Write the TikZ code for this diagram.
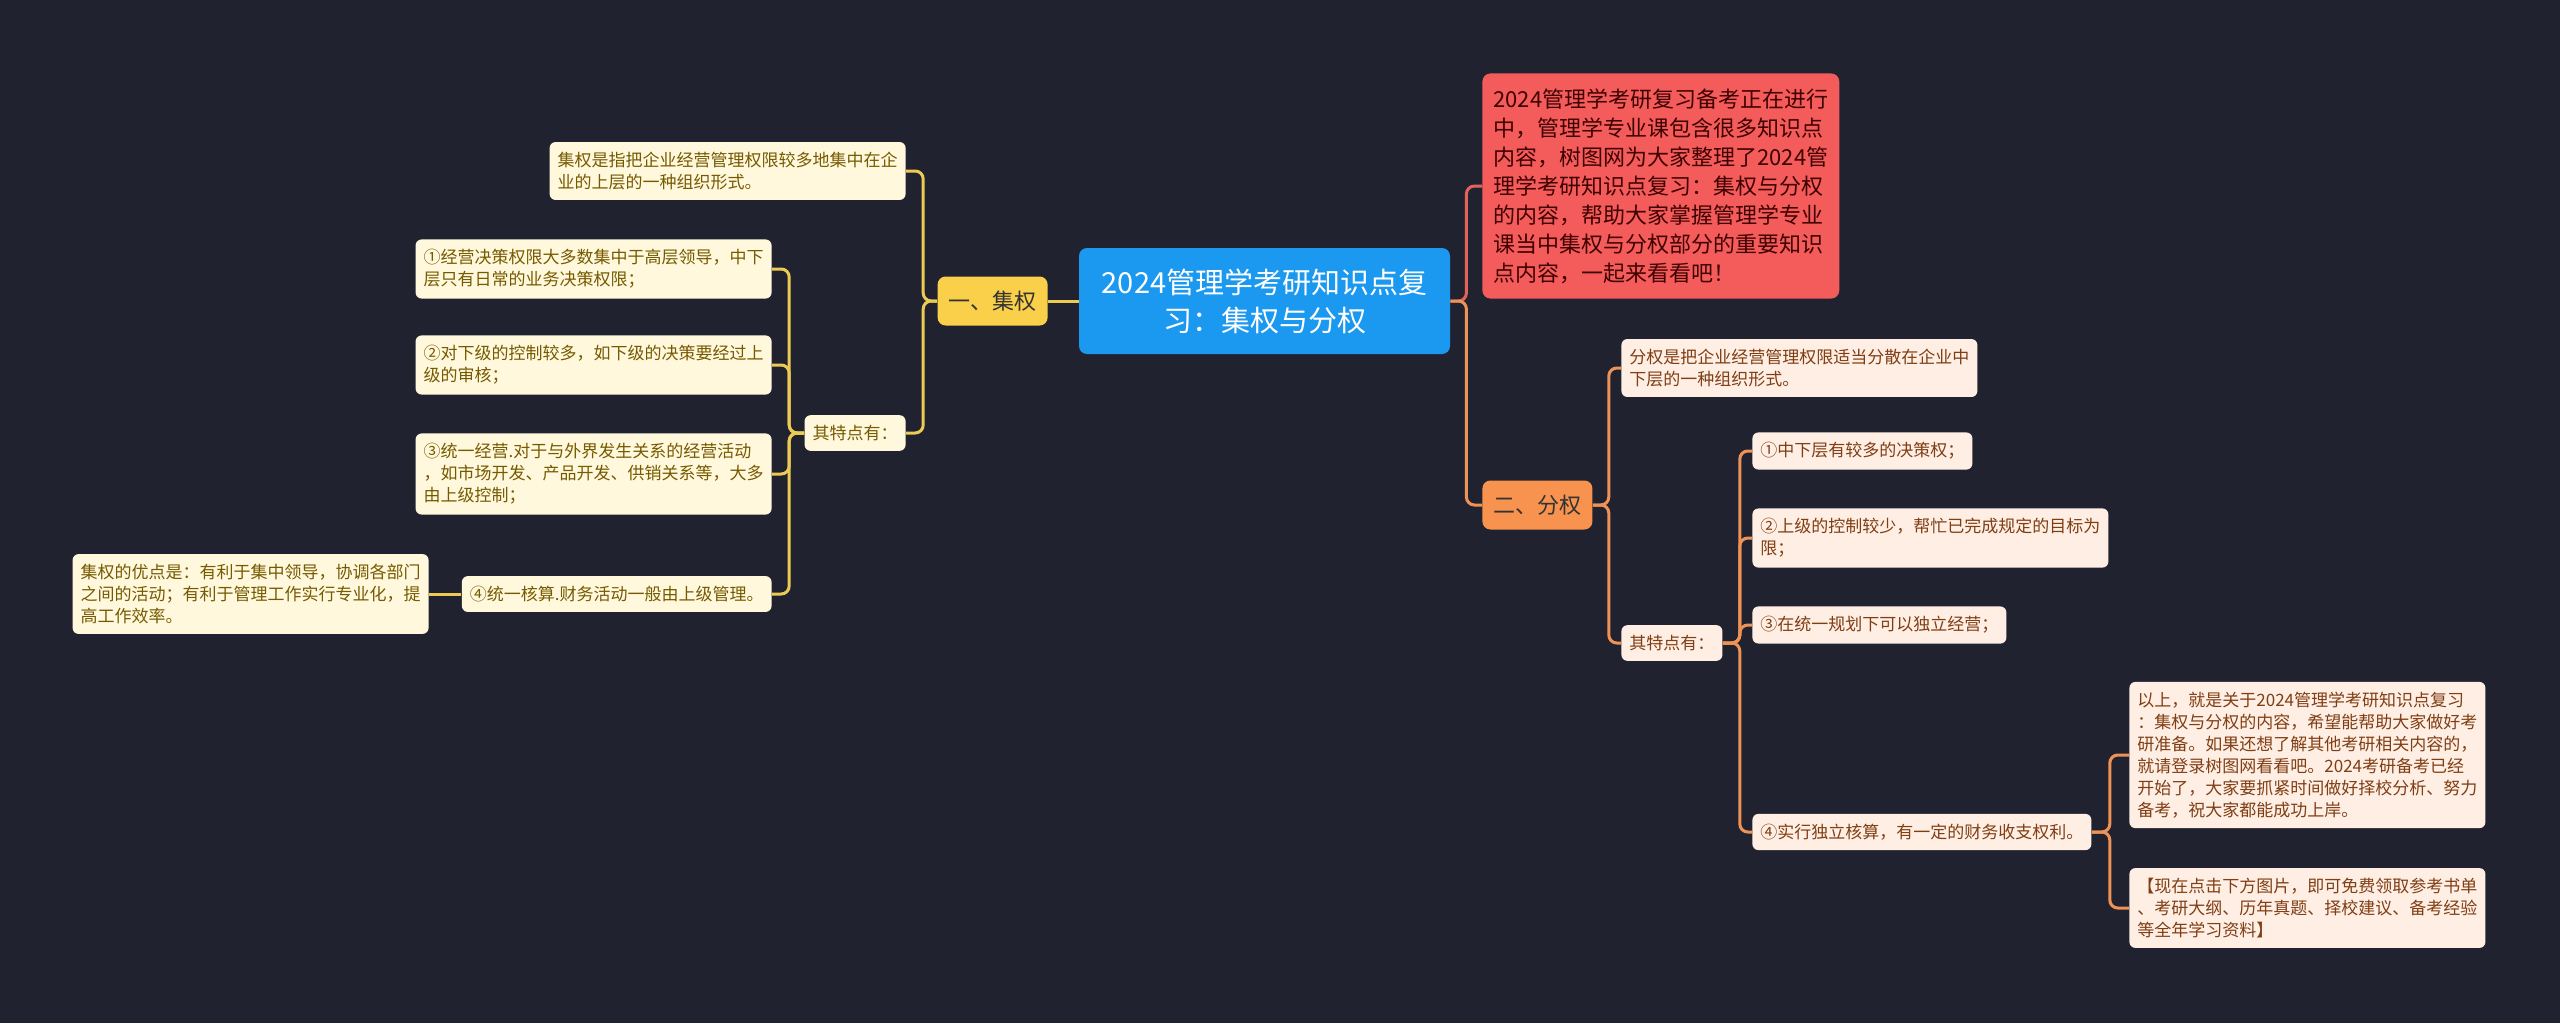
\documentclass[tikz,border=0pt]{standalone}
\usepackage{fontspec}
\setmainfont{Noto Sans CJK SC}
\definecolor{bg}{HTML}{20232F}
\definecolor{rootblue}{HTML}{1B98EF}
\definecolor{ybranch}{HTML}{FAD04B}
\definecolor{obranch}{HTML}{F7934F}
\definecolor{introred}{HTML}{F45C5C}
\definecolor{yleaf}{HTML}{FFF8DD}
\definecolor{oleaf}{HTML}{FFEEE3}
\definecolor{ytext}{HTML}{765A00}
\definecolor{otext}{HTML}{7F3E14}
\definecolor{yline}{HTML}{EDCB52}
\definecolor{oline}{HTML}{EE9256}
\definecolor{rline}{HTML}{E2625C}

\begin{document}
\begin{tikzpicture}[x=0.5pt,y=-0.5pt,
 ylink/.style={yline,line width=1.5pt,rounded corners=4pt},
 olink/.style={oline,line width=1.5pt,rounded corners=4pt},
 rlink/.style={rline,line width=1.5pt,rounded corners=4pt},
 leafbox/.style={rounded corners=3pt,align=left,inner xsep=4pt,inner ysep=5pt,font=\fontsize{8.5}{11}\selectfont},
 yleafbox/.style={leafbox,fill=yleaf,text=ytext,anchor=east},
 oleafbox/.style={leafbox,fill=oleaf,text=otext,anchor=west},
 branchbox/.style={rounded corners=4pt,inner xsep=5.5pt,inner ysep=0pt,minimum height=24.5pt,font=\fontsize{11}{13}\selectfont},
]
\fill[bg] (0,0) rectangle (2560,1023);

% centre
\node[fill=rootblue,text=white,rounded corners=4pt,align=center,inner sep=0pt,
 minimum width=185.5pt,minimum height=53pt,font=\fontsize{14.5}{19}\selectfont]
 (root) at (1264.5,301) {2024管理学考研知识点复\\习：集权与分权};

% left: 集权
\node[branchbox,fill=ybranch,text=black!80,anchor=east] (jq) at (1048,301) {一、集权};
\node[yleafbox] (jqdef) at (906,171) {集权是指把企业经营管理权限较多地集中在企\\业的上层的一种组织形式。};
\node[yleafbox] (jqfeat) at (906,433) {其特点有：};
\node[yleafbox] (jq1) at (772,269) {①经营决策权限大多数集中于高层领导，中下\\层只有日常的业务决策权限；};
\node[yleafbox] (jq2) at (772,365) {②对下级的控制较多，如下级的决策要经过上\\级的审核；};
\node[yleafbox] (jq3) at (772,474) {③统一经营.对于与外界发生关系的经营活动\\，如市场开发、产品开发、供销关系等，大多\\由上级控制；};
\node[yleafbox] (jq4) at (772,594) {④统一核算.财务活动一般由上级管理。};
\node[yleafbox] (jqadv) at (429,594) {集权的优点是：有利于集中领导，协调各部门\\之间的活动；有利于管理工作实行专业化，提\\高工作效率。};

\draw[ylink] (root.west) -- (jq.east);
\foreach \n in {jqdef,jqfeat}
  \draw[ylink] (jq.west) -- ++(-14,0) |- (\n.east);
\foreach \n in {jq1,jq2,jq3,jq4}
  \draw[ylink] (jqfeat.west) -- ++(-15,0) |- (\n.east);
\draw[ylink] (jq4.west) -- (jqadv.east);

% right: 分权
\node[fill=introred,text=black!75!red,rounded corners=4pt,align=left,anchor=west,
 inner xsep=5.5pt,inner ysep=7.5pt,font=\fontsize{11}{14.5}\selectfont]
 (intro) at (1482,186) {2024管理学考研复习备考正在进行\\中，管理学专业课包含很多知识点\\内容，树图网为大家整理了2024管\\理学考研知识点复习：集权与分权\\的内容，帮助大家掌握管理学专业\\课当中集权与分权部分的重要知识\\点内容，一起来看看吧！};
\node[branchbox,fill=obranch,text=black!80,anchor=west] (fq) at (1482,505) {二、分权};
\node[oleafbox] (fqdef) at (1621,368) {分权是把企业经营管理权限适当分散在企业中\\下层的一种组织形式。};
\node[oleafbox] (fqfeat) at (1621,643) {其特点有：};
\node[oleafbox] (fq1) at (1752,451) {①中下层有较多的决策权；};
\node[oleafbox] (fq2) at (1752,538) {②上级的控制较少，帮忙已完成规定的目标为\\限；};
\node[oleafbox] (fq3) at (1752,625) {③在统一规划下可以独立经营；};
\node[oleafbox] (fq4) at (1752,832) {④实行独立核算，有一定的财务收支权利。};
\node[oleafbox] (fqend) at (2129,755) {以上，就是关于2024管理学考研知识点复习\\：集权与分权的内容，希望能帮助大家做好考\\研准备。如果还想了解其他考研相关内容的，\\就请登录树图网看看吧。2024考研备考已经\\开始了，大家要抓紧时间做好择校分析、努力\\备考，祝大家都能成功上岸。};
\node[oleafbox] (fqlink) at (2129,908) {【现在点击下方图片，即可免费领取参考书单\\、考研大纲、历年真题、择校建议、备考经验\\等全年学习资料】};

\draw[rlink] (root.east) -- ++(16,0) |- (intro.west);
\draw[olink] (root.east) -- ++(16,0) |- (fq.west);
\foreach \n in {fqdef,fqfeat}
  \draw[olink] (fq.east) -- ++(16,0) |- (\n.west);
\foreach \n in {fq1,fq2,fq3,fq4}
  \draw[olink] (fqfeat.east) -- ++(17,0) |- (\n.west);
\foreach \n in {fqend,fqlink}
  \draw[olink] (fq4.east) -- ++(18,0) |- (\n.west);
\end{tikzpicture}
\end{document}
